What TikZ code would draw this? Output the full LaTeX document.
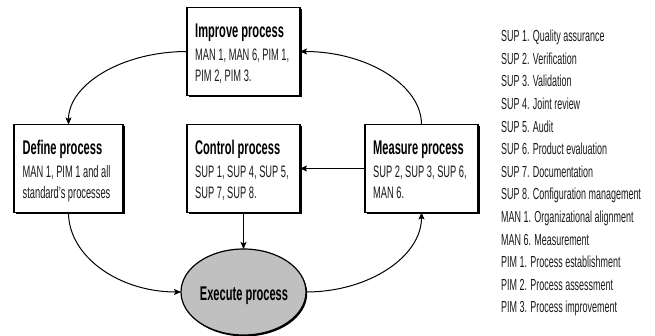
\documentclass[tikz,border=0pt]{standalone}
\usepackage{fontspec}
\setmainfont{Liberation Sans}[FakeStretch=0.56]
\usetikzlibrary{arrows.meta,shadows,shapes.geometric}
\definecolor{ellgray}{HTML}{C0C0C0}
\definecolor{txtgray}{HTML}{1A1A1A}
\begin{document}
\begin{tikzpicture}[x=1pt,y=-1pt,
  box/.style={draw, line width=1.2pt, fill=white, minimum width=113pt, minimum height=88pt,
    inner sep=0pt, outer sep=0pt,
    general shadow={fill=black, shadow xshift=1.5pt, shadow yshift=-1.5pt}},
  ttl/.style={anchor=base west, inner sep=0pt, font=\fontsize{19.8}{19.8}\selectfont\bfseries},
  bod/.style={anchor=base west, inner sep=0pt, font=\fontsize{16.6}{16.6}\selectfont, text=txtgray},
  leg/.style={anchor=base west, inner sep=0pt, font=\fontsize{16}{16}\selectfont, text=txtgray},
  arr/.style={-{Stealth[length=7pt,width=6pt,inset=1.5pt]}, line width=1pt}]
\useasboundingbox (0,0) rectangle (655,336);

% boxes
\node[box] (imp) at (243.5,51.5) {};
\node[box, minimum width=109pt] (def) at (68.5,168.5) {};
\node[box] (ctl) at (243.5,168.5) {};
\node[box] (mea) at (421.5,168.5) {};
\node[draw, ellipse, line width=1.2pt, fill=ellgray, minimum width=125pt, minimum height=86pt,
  inner sep=0pt, outer sep=0pt,
  general shadow={fill=black, shadow xshift=1.2pt, shadow yshift=-1.5pt}] (ell) at (243.5,292) {};

% box texts
\node[ttl] (impT) at ([shift={(8,30)}]imp.north west) {Improve process};
\node[bod] (impB1) at ([shift={(8,53)}]imp.north west) {MAN 1, MAN 6, PIM 1,};
\node[bod] (impB2) at ([shift={(8,74)}]imp.north west) {PIM 2, PIM 3.};

\node[ttl] (defT) at ([shift={(8.5,30)}]def.north west) {Define process};
\node[bod] (defB1) at ([shift={(8.5,53)}]def.north west) {MAN 1, PIM 1 and all};
\node[bod] (defB2) at ([shift={(8.5,74)}]def.north west) {standard's processes};

\node[ttl] (ctlT) at ([shift={(8,30)}]ctl.north west) {Control process};
\node[bod] (ctlB1) at ([shift={(8,53)}]ctl.north west) {SUP 1, SUP 4, SUP 5,};
\node[bod] (ctlB2) at ([shift={(8,74)}]ctl.north west) {SUP 7, SUP 8.};

\node[ttl] (meaT) at ([shift={(8,30)}]mea.north west) {Measure process};
\node[bod] (meaB1) at ([shift={(8,53)}]mea.north west) {SUP 2, SUP 3, SUP 6,};
\node[bod] (meaB2) at ([shift={(8,74)}]mea.north west) {MAN 6.};

\node[ttl, anchor=base] (exeT) at (244,300.5) {Execute process};

% connectors
\draw[arr] (imp.west) .. controls +(-65,0) and +(0,-40) .. (def.north);
\draw[arr] (mea.north) .. controls +(0,-40) and +(66,0) .. (imp.east);
\draw[arr] (mea.west) -- (ctl.east);
\draw[arr] (ctl.south) -- (ell.north);
\draw[arr] (def.south) .. controls +(0,44) and +(-62,0) .. (ell.west);
\draw[arr] (ell.east) .. controls +(63,0) and +(0,44) .. (mea.south);

% legend
\node[leg] (l1) at (501,41.7) {SUP 1. Quality assurance};
\node[leg] (l2) at (501,64.3) {SUP 2. Verification};
\node[leg] (l3) at (501,86.9) {SUP 3. Validation};
\node[leg] (l4) at (501,109.5) {SUP 4. Joint review};
\node[leg] (l5) at (501,132.1) {SUP 5. Audit};
\node[leg] (l6) at (501,154.7) {SUP 6. Product evaluation};
\node[leg] (l7) at (501,177.3) {SUP 7. Documentation};
\node[leg] (l8) at (501,199.9) {SUP 8. Configuration management};
\node[leg] (l9) at (501,222.5) {MAN 1. Organizational alignment};
\node[leg] (l10) at (501,245.1) {MAN 6. Measurement};
\node[leg] (l11) at (501,267.7) {PIM 1. Process establishment};
\node[leg] (l12) at (501,290.3) {PIM 2. Process assessment};
\node[leg] (l13) at (501,312.9) {PIM 3. Process improvement};
\end{tikzpicture}
\end{document}
